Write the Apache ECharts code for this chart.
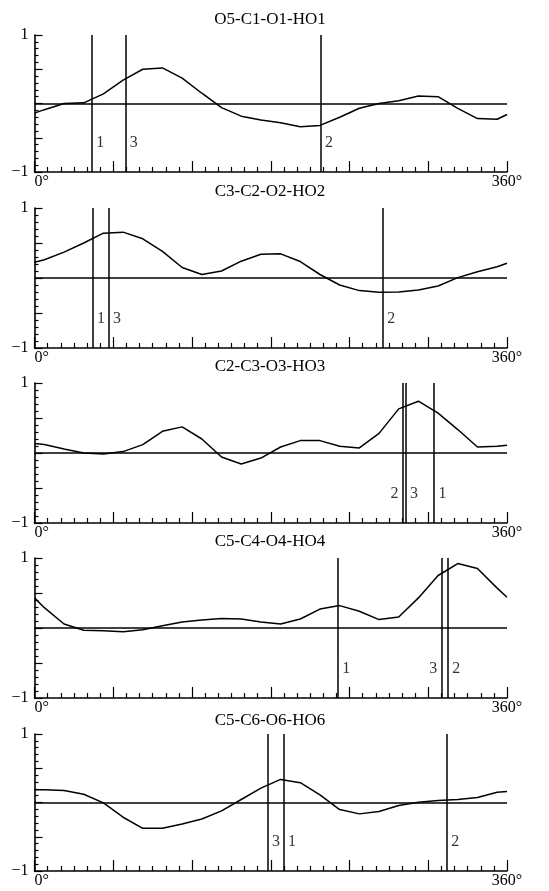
<!DOCTYPE html>
<html>
<head>
<meta charset="utf-8">
<script src="https://cdn.jsdelivr.net/npm/echarts@6/dist/echarts.min.js"></script>
<style>
  html, body { margin: 0; padding: 0; background: #fff; }
  #chart { width: 549px; height: 891px; }
</style>
</head>
<body>
<div id="chart"></div>
<script>
// torsion angle (deg) where the curves were sampled
const angles = [0, 7.5, 22.5, 37.5, 52.5, 67.5, 82.5, 97.5, 112.5, 127.5, 142.5, 157.5, 172.5,
  187.5, 202.5, 217.5, 232.5, 247.5, 262.5, 277.5, 292.5, 307.5, 322.5, 337.5, 352.5, 360];

const titles = ["O5-C1-O1-HO1", "C3-C2-O2-HO2", "C2-C3-O3-HO3", "C5-C4-O4-HO4", "C5-C6-O6-HO6"];

const curve1 = [-0.14, -0.09, 0.0, 0.01, 0.14, 0.34, 0.5, 0.52, 0.37, 0.15, -0.06, -0.185, -0.24,
  -0.28, -0.34, -0.32, -0.2, -0.07, 0.0, 0.04, 0.11, 0.1, -0.07, -0.22, -0.23, -0.16];
const curve2 = [0.225, 0.26, 0.37, 0.5, 0.64, 0.655, 0.56, 0.38, 0.15, 0.05, 0.1, 0.24, 0.34,
  0.345, 0.235, 0.05, -0.1, -0.18, -0.205, -0.2, -0.17, -0.115, 0.005, 0.09, 0.16, 0.21];
const curve3 = [0.134, 0.12, 0.057, 0.0, -0.014, 0.02, 0.12, 0.31, 0.373, 0.2, -0.057, -0.158, -0.072,
  0.086, 0.177, 0.177, 0.096, 0.072, 0.28, 0.63, 0.74, 0.57, 0.335, 0.086, 0.096, 0.11];
const curve4 = [0.43, 0.29, 0.057, -0.033, -0.04, -0.053, -0.024, 0.033, 0.086, 0.115, 0.134, 0.129, 0.086,
  0.057, 0.129, 0.27, 0.32, 0.24, 0.12, 0.158, 0.43, 0.75, 0.92, 0.85, 0.57, 0.44];
const curve5 = [0.186, 0.186, 0.176, 0.12, -0.005, -0.215, -0.377, -0.377, -0.313, -0.24, -0.122, 0.044, 0.21,
  0.337, 0.29, 0.112, -0.103, -0.166, -0.132, -0.044, 0.005, 0.03, 0.044, 0.073, 0.15, 0.16];

// vertical marker lines (angle) and their numbers
const markAngles1 = [43.7, 69.2, 217.9];
const markNames1 = ["1", "3", "2"];
const markAngles2 = [44.2, 56.4, 265.4];
const markNames2 = ["1", "3", "2"];
const markAngles3 = [304.3, 280.7, 282.7];
const markNames3 = ["1", "2", "3"];
const markAngles4 = [231.1, 314.8, 310.2];
const markNames4 = ["1", "2", "3"];
const markAngles5 = [189.7, 314.0, 177.5];
const markNames5 = ["1", "2", "3"];

const curves = [curve1, curve2, curve3, curve4, curve5];
const markAngles = [markAngles1, markAngles2, markAngles3, markAngles4, markAngles5];
const markNames = [markNames1, markNames2, markNames3, markNames4, markNames5];

// layout / styling
const labelSides = [
  ["right", "right", "right"],
  ["right", "right", "right"],
  ["right", "left", "right"],
  ["right", "right", "left"],
  ["right", "right", "right"],
];
const panelTops = [35, 208, 383, 558, 734];
const panelHeights = [137, 140, 140, 140, 137];
const titleTops = [6.5, 178.5, 353.5, 528.5, 707];
const FONT = "Liberation Serif";

const chart = echarts.init(document.getElementById("chart"));

const grid = [], xAxis = [], yAxis = [], series = [], title = [];

for (let i = 0; i < 5; i++) {
  title.push({
    text: titles[i],
    left: 265,
    top: titleTops[i],
    textAlign: "center",
    textStyle: { fontFamily: FONT, fontSize: 17, fontWeight: "normal", color: "#000" },
  });
  grid.push({ left: 34.5, right: 42, top: panelTops[i], height: panelHeights[i] });
  xAxis.push({
    type: "value",
    gridIndex: i,
    min: 0,
    max: 360,
    interval: 60,
    axisLine: { onZero: false, lineStyle: { color: "#000", width: 1.6 } },
    axisTick: { inside: true, length: 11, lineStyle: { color: "#000", width: 1.2 } },
    minorTick: { show: true, splitNumber: 6, length: 5, lineStyle: { color: "#000", width: 1.2 } },
    splitLine: { show: false },
    axisLabel: {
      margin: 2,
      fontFamily: FONT,
      fontSize: 16,
      color: "#000",
      alignMinLabel: "left",
      formatter: (v) => (v === 0 ? "0°" : v === 360 ? "360°" : ""),
    },
  });
  yAxis.push({
    type: "value",
    gridIndex: i,
    min: -1,
    max: 1,
    interval: 0.5,
    axisLine: { onZero: false, lineStyle: { color: "#000", width: 1.6 } },
    axisTick: { inside: true, length: 8, lineStyle: { color: "#000", width: 1.2 } },
    minorTick: { show: true, splitNumber: 5, length: 4, lineStyle: { color: "#000", width: 1.2 } },
    splitLine: { show: false },
    axisLabel: {
      margin: 6,
      fontFamily: FONT,
      fontSize: 16,
      color: "#000",
      formatter: (v) => (v === 1 ? "1" : v === -1 ? "\u22121" : ""),
    },
  });

  const lines = [{ yAxis: 0 }].concat(markAngles[i].map((a) => ({ xAxis: a })));

  series.push({
    type: "line",
    xAxisIndex: i,
    yAxisIndex: i,
    data: angles.map((a, k) => [a, curves[i][k]]),
    symbol: "none",
    lineStyle: { color: "#000", width: 1.5 },
    silent: true,
    markLine: {
      silent: true,
      symbol: "none",
      label: { show: false },
      lineStyle: { color: "#000", type: "solid", width: 1.5 },
      data: lines,
    },
  });

  // numbers next to the vertical lines
  series.push({
    type: "scatter",
    xAxisIndex: i,
    yAxisIndex: i,
    symbolSize: 1,
    itemStyle: { color: "rgba(0,0,0,0)" },
    silent: true,
    data: markAngles[i].map((a, k) => ({
      value: [a, -0.58],
      label: {
        show: true,
        position: labelSides[i][k],
        distance: 4,
        formatter: markNames[i][k],
        fontFamily: FONT,
        fontSize: 16,
        color: "#000",
      },
    })),
  });
}

chart.setOption({
  animation: false,
  backgroundColor: "#fff",
  title: title,
  grid: grid,
  xAxis: xAxis,
  yAxis: yAxis,
  series: series,
});
</script>
</body>
</html>
